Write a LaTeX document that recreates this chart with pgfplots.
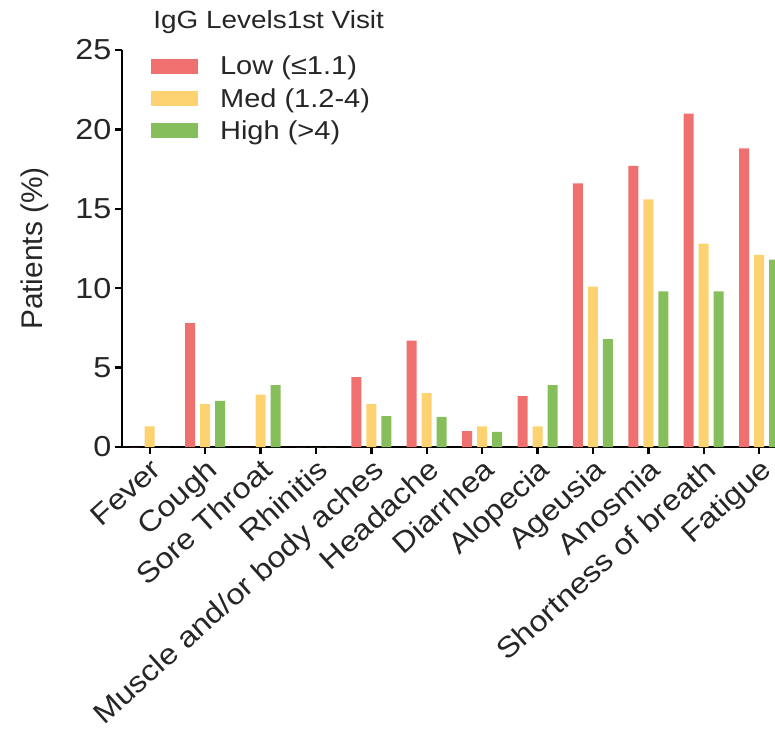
\documentclass[border=0pt]{standalone}
\usepackage{pgfplots}
\pgfplotsset{compat=1.18}
\usepackage{fontspec}
\setmainfont{Liberation Sans}
\newfontfamily\wide{Liberation Sans}[FakeStretch=1.12]
\definecolor{lowred}{RGB}{240,112,112}
\definecolor{medyel}{RGB}{253,210,112}
\definecolor{higrn}{RGB}{134,190,92}
\begin{document}
\begin{tikzpicture}
\begin{axis}[
  at={(122bp,286bp)}, anchor=south west,
  scale only axis, width=664.8bp, height=397bp,
  xmin=-0.5, xmax=11.5, ymin=0, ymax=25,
  clip=false,
  axis lines=left, axis line style={-, line width=2.4bp, black},
  ytick={0,5,...,25},
  xtick={0,...,11},
  xticklabels={Fever,Cough,Sore Throat,Rhinitis,Muscle and/or body aches,Headache,Diarrhea,Alopecia,Ageusia,Anosmia,Shortness of breath,Fatigue},
  tick align=outside, major tick length=7bp,
  every tick/.style={black, line width=2.4bp},
  tick label style={font=\wide\fontsize{29}{29}\selectfont, text=black!85},
  /pgf/number format/assume math mode=true,
  xticklabel style={rotate=42, anchor=north east, font=\wide\fontsize{29}{29}\selectfont, inner sep=2bp},
  ylabel={Patients (\%)},
  ylabel style={at={(rel axis cs:-0.131,0.5)}, anchor=center, font=\fontsize{30}{30}\selectfont, text=black!85},
  ybar, bar width=10bp,
  legend image code/.code={\fill[#1] (0bp,-7.5bp) rectangle (47bp,7.5bp);},
  legend style={at={(rel axis cs:0.039,0.995)}, anchor=north west, draw=none, fill=none,
    font=\wide\fontsize{26}{26}\selectfont, text=black!85, row sep=8bp,
    /tikz/every odd column/.append style={column sep=20bp}},
  legend cell align=left,
]
\addplot[fill=lowred, draw=none, bar shift=-15bp] coordinates {
(0,0) (1,7.8) (2,0) (3,0) (4,4.4) (5,6.7) (6,1.0) (7,3.2) (8,16.6) (9,17.7) (10,21.0) (11,18.8)};
\addplot[fill=medyel, draw=none, bar shift=0bp] coordinates {
(0,1.3) (1,2.7) (2,3.3) (3,0) (4,2.7) (5,3.4) (6,1.3) (7,1.3) (8,10.1) (9,15.6) (10,12.8) (11,12.1)};
\addplot[fill=higrn, draw=none, bar shift=15bp] coordinates {
(0,0) (1,2.9) (2,3.9) (3,0) (4,1.95) (5,1.9) (6,0.96) (7,3.9) (8,6.8) (9,9.8) (10,9.8) (11,11.8)};
\legend{Low (≤1.1),Med (1.2-4),High (>4)}
\node[anchor=west, font=\wide\fontsize{25}{25}\selectfont, text=black!85] at (rel axis cs:0.042,1.0705) {IgG Levels1st Visit};
\end{axis}
\pgfresetboundingbox
\useasboundingbox (0,0) rectangle (775bp,733bp);
\end{tikzpicture}
\end{document}
